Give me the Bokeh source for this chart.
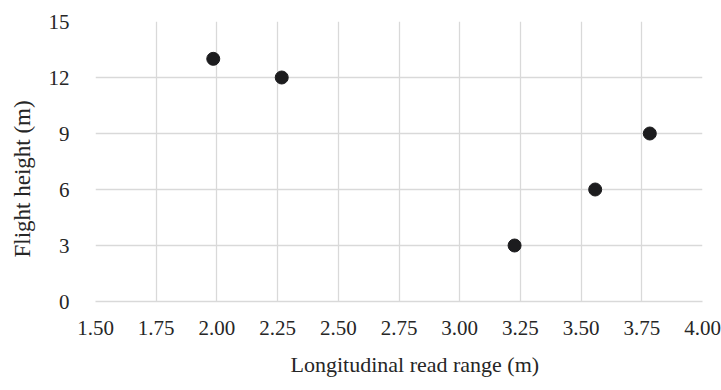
from bokeh.plotting import figure
from bokeh.models import Range1d, FixedTicker, NumeralTickFormatter, ColumnDataSource, Title
from bokeh.embed import file_html
from bokeh.resources import INLINE

read_range = [1.985, 2.267, 3.226, 3.558, 3.783]
flight_height = [13, 12, 3, 6, 9]
x_ticks = [1.50, 1.75, 2.00, 2.25, 2.50, 2.75, 3.00, 3.25, 3.50, 3.75, 4.00]
y_ticks = [0, 3, 6, 9, 12, 15]
x_title = "Longitudinal read range (m)"
y_title = "Flight height (m)"

FONT = "Liberation Serif"
GRID = "#d9d9d9"
TXT = "#262626"

p = figure(width=721, height=390, output_backend="svg", toolbar_location=None,
           x_range=Range1d(1.5, 4.0), y_range=Range1d(0, 15),
           min_border_left=95, min_border_right=19, min_border_top=21, min_border_bottom=89)
p.outline_line_color = None
p.background_fill_color = "white"

src = ColumnDataSource(dict(x=read_range, y=flight_height))
p.scatter("x", "y", source=src, size=13, color="#1c1c1e", line_color="#1c1c1e")

p.xaxis.ticker = FixedTicker(ticks=x_ticks)
p.yaxis.ticker = FixedTicker(ticks=y_ticks)
p.xaxis.formatter = NumeralTickFormatter(format="0.00")
p.xgrid.ticker = FixedTicker(ticks=x_ticks)
p.ygrid.ticker = FixedTicker(ticks=y_ticks)
p.xgrid.grid_line_color = GRID
p.ygrid.grid_line_color = GRID
p.xgrid.grid_line_width = 1.3
p.ygrid.grid_line_width = 1.3

for ax in (p.xaxis, p.yaxis):
    ax.major_tick_line_color = None
    ax.minor_tick_line_color = None
    ax.major_label_text_font = FONT
    ax.major_label_text_font_size = "21px"
    ax.major_label_text_color = TXT

p.xaxis.axis_line_color = GRID
p.xaxis.axis_line_width = 1.3
p.yaxis.axis_line_color = None
p.xaxis.major_label_standoff = 13
p.yaxis.major_label_standoff = 20

xt = Title(text=x_title, align="left", offset=195, vertical_align="bottom", standoff=25,
           text_font=FONT, text_font_size="22px", text_font_style="normal", text_color=TXT)
yt = Title(text=y_title, align="left", offset=44, vertical_align="top", standoff=18,
           text_font=FONT, text_font_size="23px", text_font_style="normal", text_color=TXT)
p.add_layout(xt, "below")
p.add_layout(yt, "left")

open("out.html", "w").write(file_html(p, INLINE))
